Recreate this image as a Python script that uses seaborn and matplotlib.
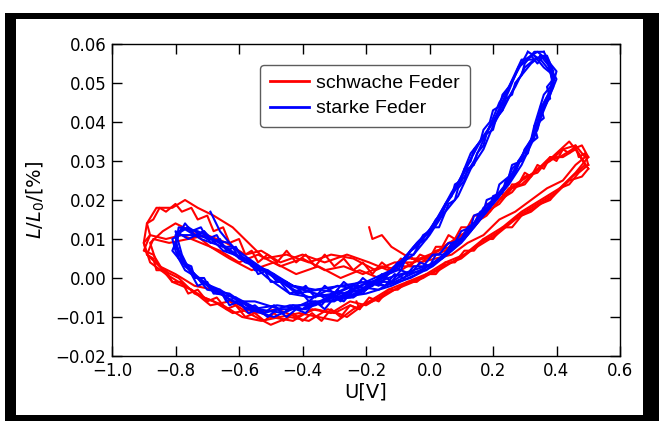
import pandas as pd
import seaborn as sns
import matplotlib
matplotlib.use("Agg")
import matplotlib.pyplot as plt
from matplotlib.patches import Rectangle

# hysteresis cycles, (U in V, L/L0)
red_cycle1 = [(0.50, 0.031), (0.48, 0.034), (0.45, 0.033), (0.41, 0.031), (0.37, 0.030), (0.34, 0.027),
              (0.30, 0.026), (0.26, 0.022), (0.22, 0.020), (0.18, 0.016), (0.14, 0.014), (0.10, 0.010),
              (0.06, 0.009), (0.01, 0.006), (-0.05, 0.004), (-0.11, 0.004), (-0.17, 0.002), (-0.24, 0.005),
              (-0.31, 0.006), (-0.38, 0.004), (-0.45, 0.006), (-0.52, 0.005), (-0.57, 0.009), (-0.62, 0.013),
              (-0.68, 0.016), (-0.73, 0.018), (-0.77, 0.020), (-0.81, 0.018), (-0.86, 0.018), (-0.89, 0.014),
              (-0.90, 0.009), (-0.88, 0.004), (-0.83, 0.001), (-0.77, -0.002), (-0.71, -0.005), (-0.65, -0.007),
              (-0.59, -0.010), (-0.53, -0.011), (-0.47, -0.010), (-0.41, -0.009), (-0.35, -0.010), (-0.29, -0.011),
              (-0.24, -0.008), (-0.19, -0.006), (-0.13, -0.003), (-0.07, -0.001), (-0.01, 0.001), (0.05, 0.004),
              (0.11, 0.006), (0.17, 0.010), (0.23, 0.013), (0.29, 0.017), (0.35, 0.020), (0.41, 0.023),
              (0.46, 0.027), (0.50, 0.031)]
red_cycle2 = [(0.49, 0.029), (0.46, 0.033), (0.42, 0.031), (0.38, 0.031), (0.33, 0.027), (0.29, 0.024),
              (0.25, 0.023), (0.20, 0.018), (0.16, 0.016), (0.12, 0.012), (0.08, 0.010), (0.03, 0.007),
              (-0.03, 0.005), (-0.09, 0.002), (-0.15, 0.003), (-0.21, 0.001), (-0.27, 0.003), (-0.33, 0.002),
              (-0.40, 0.005), (-0.47, 0.003), (-0.54, 0.006), (-0.60, 0.004), (-0.66, 0.007), (-0.72, 0.009),
              (-0.78, 0.011), (-0.83, 0.010), (-0.88, 0.011), (-0.90, 0.007), (-0.87, 0.006), (-0.84, 0.002),
              (-0.79, 0.000), (-0.74, -0.004), (-0.68, -0.006), (-0.62, -0.009), (-0.56, -0.008), (-0.50, -0.010),
              (-0.43, -0.011), (-0.37, -0.008), (-0.31, -0.009), (-0.25, -0.006), (-0.20, -0.007), (-0.14, -0.004),
              (-0.08, -0.002), (-0.02, 0.000), (0.04, 0.003), (0.10, 0.005), (0.16, 0.009), (0.22, 0.012),
              (0.28, 0.016), (0.34, 0.019), (0.40, 0.022), (0.45, 0.026), (0.49, 0.029)]
red_cycle3 = [(0.50, 0.028), (0.47, 0.032), (0.44, 0.035), (0.40, 0.032), (0.36, 0.029), (0.31, 0.026),
              (0.27, 0.024), (0.23, 0.021), (0.19, 0.017), (0.15, 0.015), (0.11, 0.011), (0.07, 0.008),
              (0.02, 0.007), (-0.04, 0.003), (-0.10, 0.003), (-0.16, 0.000), (-0.22, 0.002), (-0.28, 0.000),
              (-0.35, 0.003), (-0.42, 0.001), (-0.49, 0.004), (-0.56, 0.002), (-0.63, 0.005), (-0.69, 0.008),
              (-0.75, 0.012), (-0.80, 0.014), (-0.84, 0.012), (-0.88, 0.009), (-0.86, 0.004), (-0.81, -0.001),
              (-0.75, -0.003), (-0.69, -0.007), (-0.63, -0.006), (-0.57, -0.009), (-0.50, -0.012), (-0.44, -0.010),
              (-0.38, -0.011), (-0.32, -0.008), (-0.26, -0.010), (-0.21, -0.007), (-0.15, -0.005), (-0.09, -0.002),
              (-0.03, 0.000), (0.03, 0.002), (0.09, 0.005), (0.15, 0.008), (0.21, 0.011), (0.27, 0.015),
              (0.33, 0.018), (0.39, 0.021), (0.44, 0.025), (0.48, 0.026), (0.50, 0.028)]
red_cycle4 = [(-0.19, 0.013), (-0.18, 0.010), (-0.15, 0.011), (-0.12, 0.008), (-0.08, 0.006), (-0.03, 0.004),
              (0.02, 0.005), (0.07, 0.006), (0.12, 0.009), (0.17, 0.011), (0.22, 0.015), (0.27, 0.017),
              (0.32, 0.020), (0.37, 0.023), (0.42, 0.025), (0.46, 0.029), (0.49, 0.031), (0.46, 0.034),
              (0.42, 0.033), (0.38, 0.030), (0.34, 0.028), (0.30, 0.024), (0.26, 0.023), (0.22, 0.019),
              (0.18, 0.017), (0.14, 0.013), (0.10, 0.011), (0.05, 0.007), (-0.01, 0.005), (-0.07, 0.005),
              (-0.13, 0.002), (-0.19, 0.004), (-0.26, 0.006), (-0.33, 0.004), (-0.40, 0.006), (-0.47, 0.004),
              (-0.53, 0.007), (-0.58, 0.006), (-0.64, 0.009), (-0.70, 0.011), (-0.76, 0.010), (-0.82, 0.009),
              (-0.87, 0.010), (-0.89, 0.006), (-0.85, 0.003), (-0.80, 0.001), (-0.74, -0.002), (-0.68, -0.003),
              (-0.62, -0.006), (-0.55, -0.009), (-0.48, -0.008), (-0.42, -0.010), (-0.36, -0.008), (-0.30, -0.009),
              (-0.25, -0.007), (-0.22, -0.008), (-0.23, -0.006)]
red_cycle5 = [(0.50, 0.029), (0.49, 0.032), (0.47, 0.031), (0.46, 0.034), (0.44, 0.032), (0.42, 0.033),
              (0.40, 0.030), (0.38, 0.031), (0.36, 0.028), (0.34, 0.029), (0.32, 0.026), (0.30, 0.027),
              (0.28, 0.024), (0.26, 0.024), (0.24, 0.021), (0.22, 0.022), (0.20, 0.019), (0.18, 0.019),
              (0.16, 0.016), (0.14, 0.016), (0.12, 0.013), (0.10, 0.013), (0.08, 0.010), (0.06, 0.011),
              (0.04, 0.008), (0.02, 0.008), (0.00, 0.005), (-0.03, 0.006), (-0.06, 0.003), (-0.09, 0.005),
              (-0.12, 0.002), (-0.15, 0.004), (-0.18, 0.001), (-0.21, 0.004), (-0.24, 0.002), (-0.27, 0.005),
              (-0.30, 0.003), (-0.33, 0.006), (-0.36, 0.003), (-0.39, 0.006), (-0.42, 0.004), (-0.45, 0.007),
              (-0.48, 0.004), (-0.51, 0.006), (-0.54, 0.004), (-0.56, 0.007), (-0.58, 0.006), (-0.60, 0.010),
              (-0.63, 0.009), (-0.65, 0.013), (-0.68, 0.012), (-0.70, 0.016), (-0.73, 0.015), (-0.75, 0.018),
              (-0.78, 0.017), (-0.80, 0.019), (-0.83, 0.017), (-0.85, 0.018), (-0.87, 0.015), (-0.89, 0.014),
              (-0.88, 0.011), (-0.90, 0.009), (-0.89, 0.006), (-0.87, 0.005), (-0.86, 0.002), (-0.83, 0.002),
              (-0.81, -0.001), (-0.78, -0.001), (-0.76, -0.004), (-0.73, -0.003), (-0.70, -0.006), (-0.67, -0.005),
              (-0.64, -0.008), (-0.61, -0.007), (-0.58, -0.010), (-0.55, -0.009), (-0.52, -0.011), (-0.49, -0.009),
              (-0.46, -0.011), (-0.43, -0.009), (-0.40, -0.011), (-0.37, -0.009), (-0.34, -0.011), (-0.31, -0.008),
              (-0.28, -0.010), (-0.25, -0.007), (-0.22, -0.008), (-0.19, -0.005), (-0.16, -0.006), (-0.13, -0.003),
              (-0.10, -0.003), (-0.07, -0.001), (-0.04, -0.001), (-0.01, 0.001), (0.02, 0.001), (0.05, 0.004),
              (0.08, 0.004), (0.11, 0.007), (0.14, 0.007), (0.17, 0.010), (0.20, 0.010), (0.23, 0.013),
              (0.26, 0.013), (0.29, 0.016), (0.32, 0.017), (0.35, 0.019), (0.38, 0.020), (0.41, 0.023),
              (0.44, 0.024), (0.47, 0.027), (0.50, 0.029)]

blue_cycle1 = [(0.33, 0.057), (0.36, 0.054), (0.39, 0.052), (0.38, 0.047), (0.35, 0.041), (0.33, 0.036),
               (0.29, 0.029), (0.25, 0.024), (0.20, 0.019), (0.15, 0.014), (0.10, 0.009), (0.04, 0.005),
               (-0.03, 0.002), (-0.11, -0.001), (-0.19, -0.001), (-0.27, -0.004), (-0.35, -0.003), (-0.42, -0.004),
               (-0.49, 0.001), (-0.56, 0.003), (-0.63, 0.009), (-0.70, 0.010), (-0.76, 0.013), (-0.80, 0.011),
               (-0.79, 0.005), (-0.76, 0.003), (-0.70, -0.003), (-0.63, -0.004), (-0.56, -0.008), (-0.48, -0.007),
               (-0.40, -0.008), (-0.32, -0.005), (-0.24, -0.005), (-0.17, -0.001), (-0.11, 0.002), (-0.05, 0.008),
               (0.00, 0.012), (0.05, 0.019), (0.09, 0.024), (0.13, 0.032), (0.18, 0.037), (0.22, 0.045),
               (0.25, 0.049), (0.29, 0.056), (0.33, 0.056)]
blue_cycle2 = [(0.31, 0.058), (0.35, 0.056), (0.38, 0.053), (0.39, 0.049), (0.36, 0.044), (0.34, 0.038),
               (0.30, 0.033), (0.27, 0.027), (0.22, 0.021), (0.18, 0.017), (0.12, 0.011), (0.07, 0.007),
               (0.01, 0.003), (-0.06, 0.000), (-0.14, -0.002), (-0.22, -0.001), (-0.30, -0.004), (-0.38, -0.005),
               (-0.45, -0.002), (-0.52, 0.002), (-0.59, 0.005), (-0.66, 0.009), (-0.73, 0.012), (-0.79, 0.013),
               (-0.80, 0.008), (-0.77, 0.004), (-0.72, -0.001), (-0.66, -0.003), (-0.60, -0.006), (-0.52, -0.009),
               (-0.44, -0.007), (-0.36, -0.007), (-0.28, -0.004), (-0.20, -0.003), (-0.13, 0.001), (-0.07, 0.006),
               (-0.02, 0.010), (0.03, 0.016), (0.07, 0.022), (0.11, 0.027), (0.15, 0.034), (0.20, 0.040),
               (0.24, 0.047), (0.27, 0.052), (0.31, 0.058)]
blue_cycle3 = [(0.35, 0.057), (0.38, 0.054), (0.40, 0.051), (0.37, 0.045), (0.35, 0.042), (0.32, 0.035),
               (0.28, 0.030), (0.26, 0.026), (0.21, 0.020), (0.16, 0.016), (0.11, 0.010), (0.05, 0.006),
               (-0.01, 0.002), (-0.08, 0.001), (-0.16, -0.003), (-0.24, -0.002), (-0.32, -0.005), (-0.40, -0.003),
               (-0.47, -0.001), (-0.54, 0.003), (-0.61, 0.006), (-0.68, 0.010), (-0.74, 0.011), (-0.79, 0.011),
               (-0.81, 0.007), (-0.78, 0.004), (-0.73, 0.000), (-0.67, -0.004), (-0.61, -0.005), (-0.54, -0.008),
               (-0.46, -0.009), (-0.38, -0.006), (-0.30, -0.006), (-0.22, -0.002), (-0.15, 0.000), (-0.09, 0.004),
               (-0.04, 0.009), (0.02, 0.014), (0.06, 0.020), (0.11, 0.026), (0.14, 0.030), (0.19, 0.039),
               (0.23, 0.043), (0.28, 0.051), (0.32, 0.055), (0.35, 0.057)]
blue_cycle4 = [(0.30, 0.056), (0.34, 0.058), (0.37, 0.056), (0.39, 0.050), (0.36, 0.047), (0.33, 0.039),
               (0.31, 0.032), (0.26, 0.028), (0.23, 0.022), (0.17, 0.018), (0.13, 0.012), (0.08, 0.009),
               (0.02, 0.004), (-0.05, 0.002), (-0.13, 0.000), (-0.21, -0.003), (-0.29, -0.002), (-0.37, -0.005),
               (-0.44, -0.004), (-0.51, 0.000), (-0.58, 0.005), (-0.65, 0.007), (-0.71, 0.012), (-0.76, 0.010),
               (-0.80, 0.012), (-0.78, 0.006), (-0.75, 0.001), (-0.69, -0.002), (-0.62, -0.006), (-0.55, -0.006),
               (-0.47, -0.008), (-0.39, -0.008), (-0.31, -0.005), (-0.23, -0.004), (-0.16, 0.000), (-0.10, 0.002),
               (-0.06, 0.007), (-0.01, 0.011), (0.04, 0.017), (0.08, 0.023), (0.12, 0.029), (0.16, 0.035),
               (0.21, 0.041), (0.25, 0.048), (0.28, 0.054), (0.30, 0.056)]
blue_cycle5 = [(-0.69, 0.017), (-0.66, 0.012), (-0.62, 0.008), (-0.57, 0.005), (-0.50, 0.001), (-0.43, -0.002),
               (-0.36, -0.003), (-0.28, -0.002), (-0.20, -0.001), (-0.12, 0.002), (-0.05, 0.006), (0.00, 0.011),
               (0.04, 0.016), (0.09, 0.021), (0.13, 0.028), (0.17, 0.033), (0.20, 0.039), (0.24, 0.045),
               (0.27, 0.049), (0.30, 0.054), (0.33, 0.056), (0.37, 0.057), (0.39, 0.053), (0.38, 0.048),
               (0.35, 0.043), (0.33, 0.037), (0.29, 0.031), (0.24, 0.024), (0.20, 0.020), (0.14, 0.014),
               (0.09, 0.009), (0.03, 0.005), (-0.04, 0.001), (-0.12, -0.002), (-0.20, -0.004), (-0.28, -0.005),
               (-0.36, -0.004), (-0.43, -0.002), (-0.51, 0.002), (-0.58, 0.004), (-0.65, 0.008), (-0.72, 0.010),
               (-0.78, 0.013), (-0.80, 0.009), (-0.77, 0.003), (-0.71, -0.001), (-0.64, -0.005), (-0.57, -0.008),
               (-0.49, -0.010), (-0.41, -0.007), (-0.33, -0.006), (-0.25, -0.005), (-0.18, -0.002)]
blue_cycle6 = [(0.32, 0.057), (0.34, 0.055), (0.36, 0.057), (0.38, 0.054), (0.39, 0.051), (0.37, 0.049),
               (0.38, 0.046), (0.35, 0.044), (0.36, 0.041), (0.33, 0.039), (0.34, 0.036), (0.31, 0.034),
               (0.30, 0.031), (0.28, 0.030), (0.27, 0.027), (0.24, 0.025), (0.23, 0.022), (0.20, 0.021),
               (0.19, 0.018), (0.16, 0.017), (0.14, 0.014), (0.12, 0.013), (0.10, 0.010), (0.07, 0.009),
               (0.05, 0.006), (0.02, 0.006), (0.00, 0.003), (-0.03, 0.004), (-0.06, 0.001), (-0.09, 0.002),
               (-0.12, -0.001), (-0.15, 0.001), (-0.18, -0.002), (-0.21, 0.000), (-0.24, -0.003), (-0.27, -0.001),
               (-0.30, -0.004), (-0.33, -0.002), (-0.36, -0.005), (-0.39, -0.002), (-0.42, -0.004), (-0.45, -0.001),
               (-0.48, -0.001), (-0.51, 0.002), (-0.54, 0.001), (-0.56, 0.004), (-0.59, 0.005), (-0.61, 0.008),
               (-0.64, 0.007), (-0.66, 0.010), (-0.69, 0.009), (-0.71, 0.012), (-0.74, 0.011), (-0.76, 0.013),
               (-0.79, 0.012), (-0.80, 0.009), (-0.79, 0.007), (-0.78, 0.004), (-0.75, 0.003), (-0.74, 0.000),
               (-0.71, 0.000), (-0.69, -0.003), (-0.66, -0.003), (-0.64, -0.006), (-0.61, -0.005), (-0.58, -0.008),
               (-0.55, -0.007), (-0.52, -0.009), (-0.49, -0.007), (-0.46, -0.009), (-0.43, -0.007), (-0.40, -0.008),
               (-0.37, -0.006), (-0.34, -0.007), (-0.31, -0.004), (-0.28, -0.006), (-0.25, -0.003), (-0.22, -0.004),
               (-0.19, -0.001), (-0.16, -0.002), (-0.13, 0.001), (-0.11, 0.003), (-0.09, 0.002), (-0.07, 0.006),
               (-0.05, 0.006), (-0.03, 0.009), (-0.01, 0.010), (0.01, 0.013), (0.03, 0.013), (0.05, 0.017),
               (0.06, 0.019), (0.08, 0.020), (0.09, 0.023), (0.11, 0.025), (0.12, 0.028), (0.14, 0.029),
               (0.15, 0.032), (0.17, 0.034), (0.18, 0.037), (0.20, 0.038), (0.21, 0.041), (0.23, 0.043),
               (0.24, 0.046), (0.26, 0.047), (0.27, 0.050), (0.29, 0.052), (0.30, 0.055), (0.32, 0.057)]
blue_cycle7 = [(0.36, 0.058), (0.38, 0.055), (0.40, 0.053), (0.39, 0.050), (0.38, 0.048), (0.36, 0.045),
               (0.35, 0.043), (0.34, 0.040), (0.33, 0.038), (0.32, 0.035), (0.30, 0.033), (0.29, 0.030),
               (0.26, 0.029), (0.25, 0.026), (0.22, 0.024), (0.21, 0.021), (0.18, 0.020), (0.17, 0.017),
               (0.14, 0.016), (0.13, 0.013), (0.10, 0.012), (0.08, 0.009), (0.06, 0.009), (0.03, 0.006),
               (0.01, 0.006), (-0.02, 0.003), (-0.05, 0.003), (-0.08, 0.000), (-0.11, 0.001), (-0.14, -0.002),
               (-0.17, -0.001), (-0.20, -0.003), (-0.23, -0.002), (-0.26, -0.005), (-0.29, -0.003), (-0.32, -0.006),
               (-0.35, -0.004), (-0.38, -0.006), (-0.41, -0.003), (-0.44, -0.004), (-0.47, -0.001), (-0.50, -0.001),
               (-0.52, 0.002), (-0.55, 0.002), (-0.57, 0.005), (-0.60, 0.005), (-0.62, 0.008), (-0.65, 0.008),
               (-0.67, 0.011), (-0.70, 0.010), (-0.72, 0.013), (-0.75, 0.012), (-0.77, 0.014), (-0.79, 0.011),
               (-0.81, 0.010), (-0.80, 0.007), (-0.79, 0.005), (-0.77, 0.002), (-0.75, 0.001), (-0.73, -0.002),
               (-0.70, -0.001), (-0.68, -0.004), (-0.65, -0.004), (-0.63, -0.007), (-0.60, -0.006), (-0.57, -0.009),
               (-0.54, -0.008), (-0.51, -0.010), (-0.48, -0.008), (-0.45, -0.010), (-0.42, -0.008), (-0.39, -0.009),
               (-0.36, -0.006), (-0.33, -0.008), (-0.30, -0.005), (-0.27, -0.006), (-0.24, -0.003), (-0.21, -0.004),
               (-0.18, -0.001), (-0.15, -0.001), (-0.12, 0.002), (-0.10, 0.004), (-0.08, 0.004), (-0.06, 0.007),
               (-0.04, 0.008), (-0.02, 0.011), (0.00, 0.012), (0.02, 0.015), (0.04, 0.016), (0.05, 0.019),
               (0.07, 0.021), (0.08, 0.024), (0.10, 0.025), (0.11, 0.028), (0.13, 0.030), (0.14, 0.033),
               (0.16, 0.035), (0.17, 0.038), (0.19, 0.040), (0.20, 0.043), (0.22, 0.044), (0.23, 0.047),
               (0.25, 0.049), (0.27, 0.052), (0.28, 0.054), (0.31, 0.056), (0.33, 0.058), (0.36, 0.058)]

series_names = ["schwache Feder", "starke Feder"]
series_colors = ["red", "blue"]
x_ticks = [-1.0, -0.8, -0.6, -0.4, -0.2, 0.0, 0.2, 0.4, 0.6]
y_ticks = [-0.02, -0.01, 0.00, 0.01, 0.02, 0.03, 0.04, 0.05, 0.06]

# long table for seaborn
rows = []
cycles = {series_names[0]: [red_cycle1, red_cycle2, red_cycle3, red_cycle4, red_cycle5],
          series_names[1]: [blue_cycle1, blue_cycle2, blue_cycle3, blue_cycle4, blue_cycle5,
                            blue_cycle6, blue_cycle7]}
for name, cyc_list in cycles.items():
    for k, cyc in enumerate(cyc_list):
        for u, l in cyc:
            rows.append({"U": u, "L": l, "Feder": name, "cycle": name + str(k)})
df = pd.DataFrame(rows)

fig = plt.figure(figsize=(6.59, 4.21), dpi=100)
fig.patch.set_facecolor("white")

# black frame around the picture
fig.patches.append(Rectangle((5 / 659, 0), 1, 1 - 13 / 421, transform=fig.transFigure,
                             facecolor="black", edgecolor="none", zorder=-3))
fig.patches.append(Rectangle((16 / 659, 6 / 421), 627 / 659, 396 / 421, transform=fig.transFigure,
                             facecolor="white", edgecolor="none", zorder=-2))

ax = fig.add_axes([112 / 659, 1 - 356 / 421, 508 / 659, 312 / 421])
sns.lineplot(data=df, x="U", y="L", hue="Feder", units="cycle", estimator=None, sort=False,
             palette=dict(zip(series_names, series_colors)), linewidth=1.5, ax=ax)

ax.set_xlim(-1.0, 0.6)
ax.set_ylim(-0.02, 0.06)
ax.set_xticks(x_ticks)
ax.set_yticks(y_ticks)
ax.set_xticklabels([("%.1f" % t).replace("-", "\u2212") for t in x_ticks])
ax.set_yticklabels([("%.2f" % t).replace("-", "\u2212") for t in y_ticks])
ax.tick_params(direction="in", top=True, right=True, length=7, width=1, labelsize=12, pad=4)
for sp in ax.spines.values():
    sp.set_linewidth(1)
    sp.set_color("black")

ax.set_xlabel("U[V]", fontsize=14, labelpad=2)
ax.set_ylabel("$L/L_0$/[%]", fontsize=14, labelpad=6)

leg = ax.legend(loc="upper center", bbox_to_anchor=(0.498, 0.965), frameon=True, fancybox=True,
                prop={"family": "Liberation Sans", "size": 14}, handlelength=2.0, borderpad=0.5,
                labelspacing=0.4, handletextpad=0.4)
leg.get_frame().set_edgecolor("#333333")
leg.get_frame().set_linewidth(1.0)
for line in leg.get_lines():
    line.set_linewidth(2)

fig.savefig("out.png", dpi=100, facecolor=fig.get_facecolor())
